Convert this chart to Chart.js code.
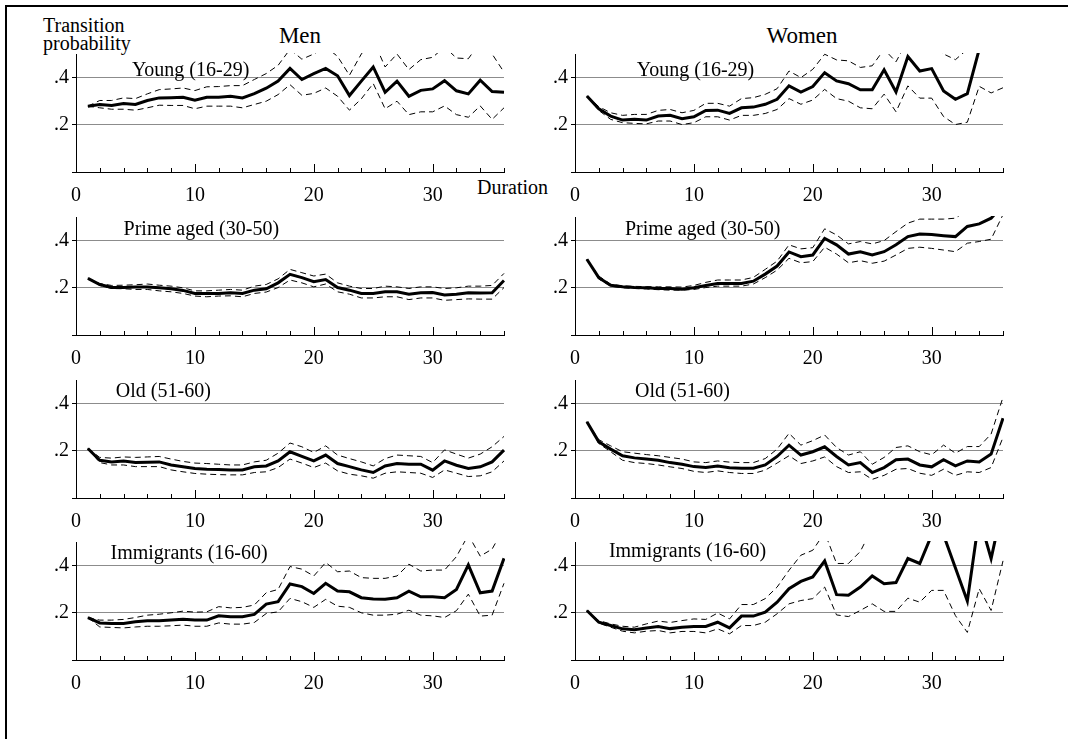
<!DOCTYPE html>
<html>
<head>
<meta charset="utf-8">
<title>Transition probability by duration</title>
<script src="https://cdn.jsdelivr.net/npm/chart.js@4.4.0/dist/chart.umd.min.js"></script>
<style>
  body { margin: 0; background: #fff; width: 1068px; height: 739px; overflow: hidden; position: relative;
         font-family: "Liberation Serif", "Times New Roman", serif; color: #000; }
  .frame { position: absolute; left: 5px; top: 5px; width: 1100px; height: 800px;
           border-left: 2px solid #000; border-top: 2px solid #000; }
  canvas { position: absolute; }
  .txt { position: absolute; white-space: nowrap; }
</style>
</head>
<body>
<div class="frame"></div>
<div class="txt" style="left:43px;top:16px;font-size:20px;line-height:18px">Transition<br>probability</div>
<div class="txt" style="left:300px;top:24px;font-size:23px;line-height:24px;transform:translateX(-50%)">Men</div>
<div class="txt" style="left:802px;top:24px;font-size:23px;line-height:24px;transform:translateX(-50%)">Women</div>
<div class="txt" style="left:477px;top:177px;font-size:20px;line-height:20px">Duration</div>

<script>
// Duration (months) on the x axis
const durations = [1,2,3,4,5,6,7,8,9,10,11,12,13,14,15,16,17,18,19,20,21,22,23,24,25,26,27,28,29,30,31,32,33,34,35,36];
const xLabelled = [0, 10, 20, 30];
const yLabelled = [0.2, 0.4];

// Men, young (16-29)
const menYoungEst = [0.279,0.286,0.282,0.290,0.286,0.303,0.314,0.315,0.317,0.304,0.317,0.317,0.321,0.314,0.332,0.355,0.385,0.439,0.392,0.417,0.439,0.408,0.324,0.385,0.445,0.338,0.385,0.321,0.346,0.352,0.387,0.344,0.331,0.389,0.341,0.338];
const menYoungHi  = [0.279,0.303,0.303,0.314,0.311,0.331,0.349,0.352,0.356,0.345,0.361,0.362,0.366,0.366,0.392,0.417,0.452,0.52,0.478,0.50,0.53,0.49,0.41,0.50,0.56,0.445,0.50,0.434,0.476,0.486,0.53,0.483,0.48,0.55,0.50,0.423];
const menYoungLo  = [0.279,0.272,0.266,0.266,0.262,0.272,0.283,0.282,0.282,0.268,0.279,0.279,0.279,0.272,0.286,0.300,0.328,0.370,0.325,0.333,0.356,0.321,0.262,0.31,0.375,0.268,0.30,0.243,0.255,0.255,0.28,0.243,0.232,0.28,0.223,0.272];
// Women, young (16-29)
const womenYoungEst = [0.322,0.268,0.237,0.220,0.223,0.220,0.237,0.240,0.226,0.234,0.261,0.262,0.248,0.272,0.275,0.287,0.308,0.365,0.339,0.362,0.421,0.386,0.374,0.348,0.348,0.433,0.339,0.489,0.428,0.438,0.343,0.308,0.332,0.52,0.70,0.70];
const womenYoungHi  = [0.322,0.277,0.251,0.240,0.244,0.244,0.261,0.265,0.251,0.261,0.291,0.291,0.279,0.311,0.315,0.329,0.353,0.428,0.400,0.435,0.499,0.475,0.471,0.443,0.45,0.52,0.467,0.56,0.535,0.55,0.50,0.476,0.52,0.60,0.65,0.65];
const womenYoungLo  = [0.322,0.261,0.223,0.209,0.206,0.204,0.216,0.216,0.201,0.209,0.234,0.234,0.220,0.240,0.240,0.248,0.265,0.311,0.287,0.305,0.350,0.311,0.300,0.272,0.268,0.330,0.255,0.365,0.313,0.313,0.235,0.201,0.211,0.363,0.335,0.357];

// Men, prime aged (30-50)
const menPrimeEst = [0.240,0.214,0.201,0.201,0.203,0.203,0.200,0.196,0.189,0.176,0.176,0.176,0.179,0.176,0.190,0.196,0.221,0.257,0.243,0.226,0.235,0.201,0.190,0.176,0.176,0.183,0.183,0.173,0.179,0.180,0.170,0.173,0.179,0.178,0.179,0.231];
const menPrimeHi  = [0.240,0.218,0.210,0.211,0.213,0.216,0.211,0.207,0.200,0.187,0.187,0.190,0.193,0.190,0.207,0.214,0.238,0.278,0.264,0.250,0.258,0.221,0.207,0.197,0.197,0.207,0.204,0.197,0.204,0.204,0.197,0.200,0.207,0.207,0.210,0.261];
const menPrimeLo  = [0.240,0.210,0.197,0.196,0.193,0.193,0.187,0.183,0.176,0.165,0.162,0.165,0.166,0.162,0.176,0.182,0.201,0.233,0.221,0.204,0.216,0.183,0.173,0.157,0.157,0.162,0.162,0.150,0.157,0.157,0.147,0.150,0.153,0.152,0.152,0.201];
// Women, prime aged (30-50)
const womenPrimeEst = [0.321,0.243,0.211,0.204,0.201,0.200,0.197,0.197,0.194,0.200,0.210,0.218,0.218,0.218,0.228,0.258,0.292,0.352,0.332,0.339,0.409,0.382,0.343,0.353,0.339,0.353,0.382,0.417,0.428,0.426,0.421,0.417,0.460,0.471,0.495,0.55];
const womenPrimeHi  = [0.321,0.250,0.215,0.208,0.206,0.205,0.204,0.204,0.203,0.210,0.223,0.233,0.233,0.233,0.244,0.278,0.313,0.382,0.365,0.370,0.450,0.424,0.386,0.396,0.386,0.400,0.438,0.474,0.491,0.491,0.491,0.495,0.53,0.56,0.60,0.60];
const womenPrimeLo  = [0.321,0.237,0.207,0.200,0.197,0.195,0.192,0.190,0.190,0.193,0.201,0.207,0.207,0.207,0.216,0.243,0.275,0.325,0.306,0.311,0.372,0.343,0.306,0.315,0.304,0.313,0.339,0.367,0.372,0.367,0.360,0.353,0.389,0.396,0.406,0.51];

// Men, old (51-60)
const menOldEst = [0.210,0.160,0.153,0.157,0.150,0.152,0.153,0.140,0.132,0.125,0.122,0.121,0.119,0.119,0.132,0.136,0.157,0.196,0.176,0.157,0.182,0.146,0.133,0.119,0.108,0.136,0.146,0.143,0.143,0.118,0.157,0.139,0.125,0.132,0.153,0.203];
const menOldHi  = [0.210,0.172,0.169,0.174,0.172,0.174,0.176,0.165,0.155,0.148,0.146,0.143,0.140,0.140,0.153,0.160,0.190,0.233,0.217,0.193,0.221,0.182,0.167,0.153,0.136,0.167,0.182,0.179,0.176,0.150,0.204,0.186,0.169,0.186,0.217,0.261];
const menOldLo  = [0.210,0.150,0.140,0.140,0.133,0.133,0.133,0.119,0.111,0.104,0.101,0.099,0.098,0.098,0.108,0.111,0.129,0.165,0.148,0.129,0.148,0.115,0.101,0.094,0.084,0.105,0.111,0.108,0.105,0.087,0.119,0.105,0.091,0.094,0.111,0.157];
// Women, old (51-60)
const womenOldEst = [0.323,0.238,0.207,0.179,0.170,0.165,0.160,0.150,0.143,0.133,0.129,0.136,0.128,0.126,0.126,0.140,0.176,0.224,0.182,0.196,0.217,0.176,0.140,0.150,0.108,0.129,0.162,0.165,0.140,0.132,0.162,0.136,0.157,0.153,0.186,0.338];
const womenOldHi  = [0.323,0.247,0.221,0.196,0.190,0.184,0.179,0.172,0.165,0.153,0.150,0.157,0.152,0.150,0.150,0.167,0.207,0.274,0.224,0.243,0.267,0.214,0.182,0.196,0.143,0.172,0.214,0.221,0.196,0.183,0.224,0.190,0.218,0.218,0.271,0.427];
const womenOldLo  = [0.323,0.231,0.196,0.160,0.150,0.146,0.140,0.132,0.125,0.113,0.108,0.115,0.108,0.104,0.104,0.118,0.148,0.179,0.146,0.157,0.174,0.133,0.108,0.111,0.079,0.096,0.122,0.125,0.105,0.096,0.122,0.096,0.111,0.108,0.129,0.257];

// Men, immigrants (16-60)
const menImmEst = [0.180,0.157,0.155,0.155,0.162,0.166,0.166,0.169,0.173,0.169,0.169,0.187,0.183,0.183,0.193,0.237,0.247,0.322,0.311,0.282,0.325,0.292,0.289,0.264,0.258,0.257,0.264,0.292,0.268,0.268,0.264,0.299,0.403,0.285,0.292,0.431];
const menImmHi  = [0.180,0.169,0.169,0.172,0.180,0.190,0.194,0.200,0.207,0.203,0.204,0.226,0.221,0.223,0.233,0.285,0.299,0.396,0.385,0.356,0.413,0.374,0.377,0.349,0.346,0.346,0.356,0.406,0.377,0.381,0.381,0.438,0.53,0.44,0.47,0.56];
const menImmLo  = [0.180,0.140,0.138,0.136,0.140,0.143,0.143,0.145,0.148,0.143,0.143,0.157,0.152,0.152,0.159,0.197,0.204,0.261,0.247,0.223,0.257,0.228,0.223,0.200,0.190,0.190,0.194,0.211,0.190,0.187,0.180,0.209,0.279,0.186,0.190,0.325];
// Women, immigrants (16-60)
const womenImmEst = [0.210,0.160,0.146,0.132,0.128,0.136,0.142,0.133,0.139,0.142,0.142,0.160,0.136,0.186,0.186,0.203,0.245,0.302,0.333,0.352,0.420,0.277,0.274,0.309,0.356,0.323,0.328,0.430,0.409,0.53,0.53,0.39,0.25,0.605,0.43,0.66];
const womenImmHi  = [0.210,0.167,0.153,0.143,0.139,0.153,0.165,0.159,0.167,0.174,0.172,0.199,0.174,0.235,0.235,0.260,0.309,0.380,0.444,0.465,0.54,0.409,0.409,0.46,0.56,0.60,0.60,0.65,0.60,0.80,0.80,0.70,0.55,0.80,0.60,0.80];
const womenImmLo  = [0.210,0.156,0.139,0.122,0.115,0.122,0.125,0.115,0.121,0.121,0.115,0.132,0.111,0.146,0.146,0.160,0.196,0.238,0.252,0.260,0.309,0.191,0.184,0.210,0.238,0.206,0.206,0.262,0.245,0.295,0.295,0.188,0.117,0.302,0.210,0.420];

// panel labels and where they sit (in data units)
const panelLabels = ['Young (16-29)', 'Young (16-29)', 'Prime aged (30-50)', 'Prime aged (30-50)',
                     'Old (51-60)', 'Old (51-60)', 'Immigrants (16-60)', 'Immigrants (16-60)'];
const labelX = [4.7, 5.2, 4.0, 4.2, 3.35, 5.05, 2.9, 2.85];
const labelY = [0.43, 0.43, 0.448, 0.448, 0.452, 0.452, 0.45, 0.46];

const panelSeries = [
  [menYoungEst, menYoungHi, menYoungLo], [womenYoungEst, womenYoungHi, womenYoungLo],
  [menPrimeEst, menPrimeHi, menPrimeLo], [womenPrimeEst, womenPrimeHi, womenPrimeLo],
  [menOldEst, menOldHi, menOldLo],       [womenOldEst, womenOldHi, womenOldLo],
  [menImmEst, menImmHi, menImmLo],       [womenImmEst, womenImmHi, womenImmLo]
];

// layout of the 4x2 grid (plot area corners)
const colLeft = [76, 575];
const rowTop = [54, 217, 380, 542];
const plotW = 428, plotH = 118;
const axisW = 70, axisH = 40, padTop = 16, padRight = 12;

Chart.defaults.font.family = '"Liberation Serif", "Times New Roman", serif';
Chart.defaults.font.size = 20;
Chart.defaults.color = '#000';

// inside x ticks + panel caption
const panelDeco = {
  id: 'panelDeco',
  afterDraw(chart, args, opts) {
    const { ctx, chartArea: a, scales: { x, y } } = chart;
    ctx.save();
    ctx.strokeStyle = '#000';
    ctx.lineWidth = 1;
    x.ticks.forEach(t => {
      const px = Math.round(x.getPixelForValue(t.value)) + 0.5;
      const len = t.value % 10 === 0 ? 8 : 4;
      ctx.beginPath();
      ctx.moveTo(px, a.bottom);
      ctx.lineTo(px, a.bottom - len);
      ctx.stroke();
    });
    ctx.fillStyle = '#000';
    ctx.font = '20px "Liberation Serif", serif';
    ctx.textBaseline = 'middle';
    ctx.fillText(opts.text, x.getPixelForValue(opts.x), y.getPixelForValue(opts.y));
    ctx.restore();
  }
};

function toPoints(values) {
  return durations.map((d, i) => ({ x: d, y: values[i] }));
}

function makeConfig(i) {
  const [est, hi, lo] = panelSeries[i];
  const dashed = { borderColor: '#000', borderWidth: 1, borderDash: [6, 4], pointRadius: 0, clip: 1 };
  return {
    type: 'line',
    data: {
      datasets: [
        { data: toPoints(est), borderColor: '#000', borderWidth: 3, pointRadius: 0, clip: 1 },
        Object.assign({ data: toPoints(hi) }, dashed),
        Object.assign({ data: toPoints(lo) }, dashed)
      ]
    },
    options: {
      responsive: false,
      animation: false,
      devicePixelRatio: 1,
      events: [],
      layout: { padding: { top: padTop, right: padRight, left: 0, bottom: 0 } },
      elements: { line: { tension: 0 } },
      plugins: {
        legend: { display: false },
        tooltip: { enabled: false },
        panelDeco: { text: panelLabels[i], x: labelX[i], y: labelY[i] }
      },
      scales: {
        x: {
          type: 'linear', min: 0, max: 36,
          grid: { display: false },
          border: { color: '#000', width: 1 },
          ticks: {
            stepSize: 2, maxRotation: 0, autoSkip: false, padding: 4,
            callback: v => xLabelled.includes(v) ? String(v) : ''
          },
          afterFit: s => { s.height = axisH; }
        },
        y: {
          min: 0, max: 0.5,
          border: { color: '#000', width: 1 },
          grid: {
            drawTicks: true, tickLength: 4, tickColor: '#000', lineWidth: 1,
            color: c => yLabelled.some(v => Math.abs(v - c.tick.value) < 1e-6) ? '#8c8c8c' : 'rgba(0,0,0,0)'
          },
          ticks: {
            stepSize: 0.1, padding: 3,
            callback: v => {
              const k = yLabelled.findIndex(t => Math.abs(t - v) < 1e-6);
              return k < 0 ? '' : '.' + Math.round(yLabelled[k] * 10);
            }
          },
          afterFit: s => { s.width = axisW; }
        }
      }
    },
    plugins: [panelDeco]
  };
}

panelSeries.forEach((s, i) => {
  const col = i % 2, row = Math.floor(i / 2);
  const cv = document.createElement('canvas');
  cv.width = axisW + plotW + padRight;
  cv.height = padTop + plotH + axisH;
  cv.style.left = (colLeft[col] - axisW) + 'px';
  cv.style.top = (rowTop[row] - padTop) + 'px';
  document.body.appendChild(cv);
  new Chart(cv, makeConfig(i));
});
</script>
</body>
</html>
